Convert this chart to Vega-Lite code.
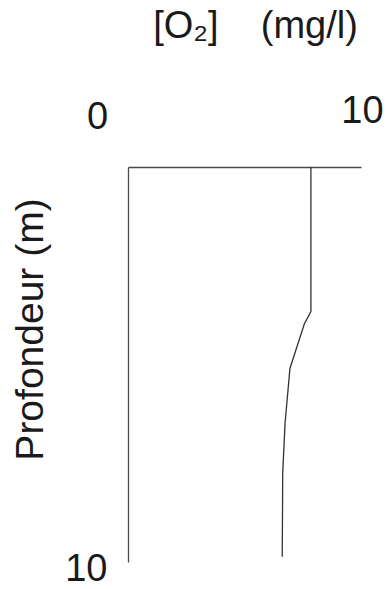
{
  "$schema": "https://vega.github.io/schema/vega-lite/v6.json",
  "width": 233,
  "height": 395,
  "autosize": "none",
  "padding": {"left": 128, "top": 167, "right": 29, "bottom": 27},
  "background": "white",
  "config": {
    "view": {"stroke": null},
    "font": "Liberation Sans",
    "axis": {"grid": false, "ticks": false, "domainColor": "#4a4a4a", "domainWidth": 1.3, "labelColor": "#1a1a1a", "titleColor": "#1a1a1a", "labelFont": "Liberation Sans", "titleFont": "Liberation Sans", "titleFontWeight": "normal", "labelFlush": false}
  },
  "data": {
    "values": [
      {"depth": 0, "o2": 7.85},
      {"depth": 3.66, "o2": 7.85},
      {"depth": 3.97, "o2": 7.57},
      {"depth": 5.1, "o2": 6.95},
      {"depth": 6.49, "o2": 6.74},
      {"depth": 7.75, "o2": 6.64},
      {"depth": 9.87, "o2": 6.62}
    ]
  },
  "mark": {"type": "line", "color": "#333333", "strokeWidth": 1.3},
  "encoding": {
    "order": {"field": "depth", "type": "quantitative"},
    "x": {
      "field": "o2",
      "type": "quantitative",
      "scale": {"domain": [0, 10], "nice": false, "zero": false},
      "axis": {
        "orient": "top",
        "values": [0, 10],
        "labelFontSize": 38,
        "labelAlign": "center",
        "labelBaseline": "alphabetic",
        "labelOffset": {"condition": {"test": "datum.value == 0", "value": -31}, "value": 1},
        "labelPadding": {"condition": {"test": "datum.value == 0", "value": 39}, "value": 45},
        "title": "[O₂]\u00a0\u00a0\u00a0\u00a0(mg/l)",
        "titleFontSize": 38,
        "titleAlign": "center",
        "titleBaseline": "alphabetic",
        "titleAnchor": null,
        "titleX": 127,
        "titleY": -130
      }
    },
    "y": {
      "field": "depth",
      "type": "quantitative",
      "scale": {"domain": [0, 10], "nice": false, "reverse": true},
      "axis": {
        "orient": "left",
        "values": [10],
        "labelFontSize": 38,
        "labelAlign": "right",
        "labelBaseline": "bottom",
        "labelOffset": 26,
        "labelPadding": 21,
        "title": "Profondeur (m)",
        "titleFontSize": 39,
        "titleAngle": 270,
        "titleAlign": "center",
        "titleBaseline": "alphabetic",
        "titleX": -86,
        "titleY": 162
      }
    }
  }
}
